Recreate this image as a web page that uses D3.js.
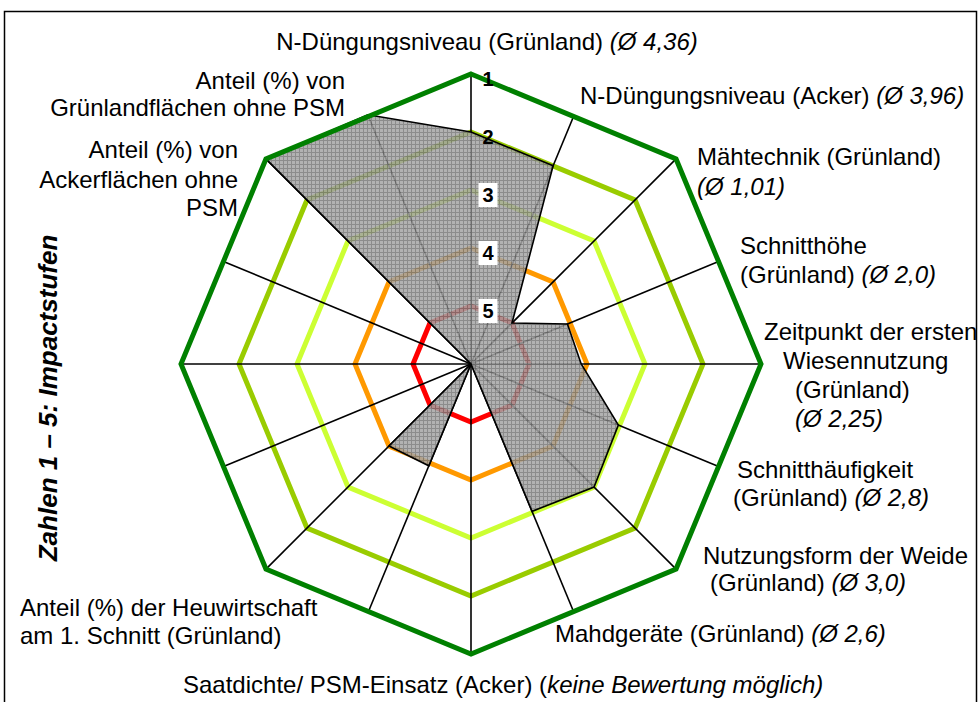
<!DOCTYPE html>
<html>
<head>
<meta charset="utf-8">
<script src="https://cdn.jsdelivr.net/npm/d3@7"></script>
<style>
  html, body { margin: 0; padding: 0; background: #fff; }
  svg { display: block; }
  text { font-family: "Liberation Sans", Arial, sans-serif; fill: #000; }
</style>
</head>
<body>
<svg id="chart" width="979" height="702"></svg>
<script>
// ---- data -------------------------------------------------------------
// 16 spokes, clockwise from the top
const axes = [
  "N-Düngungsniveau (Grünland)",
  "N-Düngungsniveau (Acker)",
  "Mähtechnik (Grünland)",
  "Schnitthöhe (Grünland)",
  "Zeitpunkt der ersten Wiesennutzung (Grünland)",
  "Schnitthäufigkeit (Grünland)",
  "Nutzungsform der Weide (Grünland)",
  "Mahdgeräte (Grünland)",
  "Saatdichte/ PSM-Einsatz (Acker)",
  "",
  "Anteil (%) der Heuwirtschaft am 1. Schnitt (Grünland)",
  "",
  "",
  "",
  "Anteil (%) von Ackerflächen ohne PSM",
  "Anteil (%) von Grünlandflächen ohne PSM"
];

// impact level per spoke (1 = outer ring, 5 = inner ring); null = no rating
const impact = [2, 2.3, 5, 4.2, 4.1, 3.25, 3, 3.25, null, 4.1, 4, null, null, null, 1, 1.35];

// impact levels drawn as rings, and their tick labels
const levels = [1, 2, 3, 4, 5];
const tickLabels = ["1", "2", "3", "4", "5"];
const levelColors = ["#008000", "#99cc00", "#ccff33", "#ff9900", "#ff0000"];

// axis captions, line by line; second item of each segment = italic
const captions = [
  [[["N-Düngungsniveau (Grünland) ", 0], ["(Ø 4,36)", 1]]],
  [[["N-Düngungsniveau (Acker) ", 0], ["(Ø 3,96)", 1]]],
  [[["Mähtechnik (Grünland)", 0]], [["(Ø 1,01)", 1]]],
  [[["Schnitthöhe", 0]], [["(Grünland) ", 0], ["(Ø 2,0)", 1]]],
  [[["Zeitpunkt der ersten", 0]], [["Wiesennutzung", 0]], [["(Grünland)", 0]], [["(Ø 2,25)", 1]]],
  [[["Schnitthäufigkeit", 0]], [["(Grünland) ", 0], ["(Ø 2,8)", 1]]],
  [[["Nutzungsform der Weide", 0]], [["(Grünland) ", 0], ["(Ø 3,0)", 1]]],
  [[["Mahdgeräte (Grünland) ", 0], ["(Ø 2,6)", 1]]],
  [[["Saatdichte/ PSM-Einsatz (Acker) (", 0], ["keine Bewertung möglich)", 1]]],
  [],
  [[["Anteil (%) der Heuwirtschaft", 0]], [["am 1. Schnitt (Grünland)", 0]]],
  [],
  [],
  [],
  [[["Anteil (%) von", 0]], [["Ackerflächen ohne", 0]], [["PSM", 0]]],
  [[["Anteil (%) von", 0]], [["Grünlandflächen ohne PSM", 0]]]
];

// ---- layout -----------------------------------------------------------
const W = 979, H = 702;
const cx = 471, cy = 364, R = 290;
const fontSize = 24;

// caption placement: per line [x, baseline y, anchor]
const captionLayout = [
  [[487, 50, "middle"]],
  [[580, 104, "start"]],
  [[697, 165, "start"], [697, 195, "start"]],
  [[740, 254, "start"], [740, 283, "start"]],
  [[764, 340, "start"], [783, 369, "start"], [795, 398, "start"], [795, 427, "start"]],
  [[737, 478, "start"], [733, 506, "start"]],
  [[703, 564, "start"], [710, 591, "start"]],
  [[555, 642, "start"]],
  [[183, 693, "start"]],
  [],
  [[20, 616, "start"], [20, 644, "start"]],
  [], [], [],
  [[238, 158, "end"], [238, 188, "end"], [238, 216, "end"]],
  [[345, 89, "end"], [345, 116, "end"]]
];

const svg = d3.select("#chart");
const n = axes.length;

const rScale = d3.scaleLinear().domain([6, 1]).range([0, R]);
const angle = d3.scaleLinear().domain([0, n]).range([0, 2 * Math.PI]);

// pattern fill of the impact area
const defs = svg.append("defs");
const pat = defs.append("pattern")
  .attr("id", "smallGrid")
  .attr("width", 4).attr("height", 4)
  .attr("patternUnits", "userSpaceOnUse");
pat.append("rect").attr("width", 4).attr("height", 4).attr("fill", "#a4a4a4");
pat.append("path").attr("d", "M0,0.5H4M0.5,0V4")
  .attr("stroke", "#787878").attr("stroke-width", 1);

// outer frame
svg.append("rect")
  .attr("x", 4.5).attr("y", 11.5)
  .attr("width", 972).attr("height", 720)
  .attr("fill", "none").attr("stroke", "#000").attr("stroke-width", 1.5);

const g = svg.append("g").attr("transform", `translate(${cx},${cy})`);

// rings are octagons through every second spoke
const ringIdx = d3.range(0, n, 2);
const ringLine = lv => d3.lineRadial()
  .angle(i => angle(i))
  .radius(() => rScale(lv))
  .curve(d3.curveLinearClosed)(ringIdx);

// distance from the centre to the outer octagon along a spoke
const apothem = rScale(1) * Math.cos(Math.PI / 8);
const spokeLen = i => {
  const a = angle(i) % (Math.PI / 4);
  return apothem / Math.cos(a - Math.PI / 8);
};

// inner rings (levels 2..5)
g.selectAll("path.ring")
  .data(levels.slice(1))
  .join("path")
  .attr("class", "ring")
  .attr("d", d => ringLine(d))
  .attr("fill", "none")
  .attr("stroke", d => levelColors[levels.indexOf(d)])
  .attr("stroke-width", 5)
  .attr("stroke-linejoin", "miter");

// spokes
g.selectAll("line.spoke")
  .data(d3.range(n))
  .join("line")
  .attr("class", "spoke")
  .attr("x1", 0).attr("y1", 0)
  .attr("x2", i => spokeLen(i) * Math.sin(angle(i)))
  .attr("y2", i => -spokeLen(i) * Math.cos(angle(i)))
  .attr("stroke", "#000")
  .attr("stroke-width", 1.6);

// impact area
const area = d3.lineRadial()
  .angle((d, i) => angle(i))
  .radius(d => d == null ? 0 : rScale(d))
  .curve(d3.curveLinearClosed);

g.append("path")
  .attr("d", area(impact))
  .attr("fill", "url(#smallGrid)")
  .attr("fill-opacity", 0.85)
  .attr("stroke", "#000")
  .attr("stroke-width", 1.6)
  .attr("stroke-linejoin", "miter");

// outer ring (level 1) on top
g.append("path")
  .attr("d", ringLine(levels[0]))
  .attr("fill", "none")
  .attr("stroke", levelColors[0])
  .attr("stroke-width", 5)
  .attr("stroke-linejoin", "miter");

// value labels along the top spoke
const ticks = g.selectAll("g.tick")
  .data(levels)
  .join("g")
  .attr("class", "tick")
  .attr("transform", d => `translate(17,${-rScale(d) + 5})`);

ticks.filter(d => d >= 3).append("rect")
  .attr("x", -9.5).attr("y", -12)
  .attr("width", 19).attr("height", 24)
  .attr("fill", "#fff");

ticks.append("text")
  .attr("text-anchor", "middle")
  .attr("dy", "0.36em")
  .style("font-size", "20px")
  .style("font-weight", "bold")
  .text((d, i) => tickLabels[i]);

// axis captions
captions.forEach((lines, k) => {
  lines.forEach((segs, j) => {
    const [x, y, anchor] = captionLayout[k][j];
    const t = svg.append("text")
      .attr("x", x).attr("y", y)
      .attr("text-anchor", anchor)
      .style("font-size", fontSize + "px");
    segs.forEach(([s, it]) => {
      t.append("tspan").text(s).style("font-style", it ? "italic" : "normal");
    });
  });
});

// vertical title
svg.append("text")
  .attr("transform", "translate(57,398) rotate(-90)")
  .attr("text-anchor", "middle")
  .style("font-size", "26px")
  .style("font-weight", "bold")
  .style("font-style", "italic")
  .text("Zahlen 1 – 5: Impactstufen");
</script>
</body>
</html>
